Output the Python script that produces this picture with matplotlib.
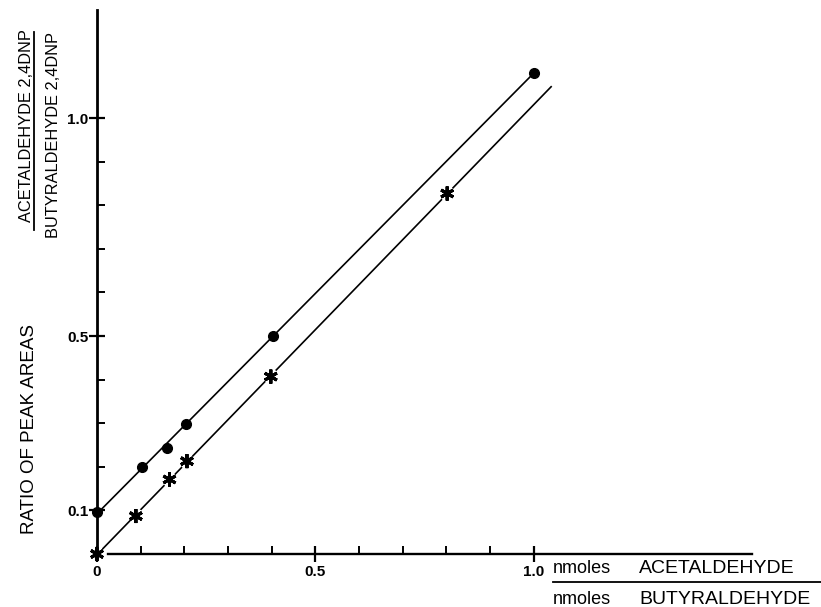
import numpy as np
import matplotlib
matplotlib.use("Agg")
import matplotlib.pyplot as plt
from matplotlib.lines import Line2D
import matplotlib.patheffects as pe

plt.rcParams['font.family'] = ['Liberation Sans', 'DejaVu Sans']

# ---- data ----
circle_x = [0.0, 0.102, 0.161, 0.204, 0.403, 1.0]
circle_y = [0.097, 0.200, 0.244, 0.299, 0.500, 1.104]
star_x = [0.0, 0.089, 0.166, 0.206, 0.398, 0.802]
star_y = [0.0, 0.087, 0.171, 0.213, 0.407, 0.827]
circle_line_x = [0.0, 1.0]
star_line_x = [0.0, 1.04]

x_major = [0.0, 0.5, 1.0]
x_major_labels = ['0', '0.5', '1.0']
x_minor = [0.1, 0.2, 0.3, 0.4, 0.6, 0.7, 0.8, 0.9]
y_major = [0.1, 0.5, 1.0]
y_major_labels = ['0.1', '0.5', '1.0']
y_minor = [0.2, 0.3, 0.4, 0.6, 0.7, 0.8, 0.9]

W, H = 821, 607
def fx(px):
    return px / W
def fy(py):
    return 1 - py / H

fig = plt.figure(figsize=(W / 100, H / 100), dpi=100)
ax = fig.add_axes([fx(97), fy(554), (752 - 97) / W, (554 - 10) / H])
ax.set_xlim(0, 1.5)
ax.set_ylim(0, 1.248)

for s in ['top', 'right']:
    ax.spines[s].set_visible(False)
ax.spines['left'].set_linewidth(2.0)
ax.spines['bottom'].set_linewidth(1.7)
ax.spines['bottom'].set_bounds(0.025, 1.5)

ax.set_xticks(x_major)
ax.set_xticklabels(x_major_labels, fontsize=11, fontweight='bold')
ax.set_xticks(x_minor, minor=True)
ax.set_yticks(y_major)
ax.set_yticklabels(y_major_labels, fontsize=11, fontweight='bold')
ax.set_yticks(y_minor, minor=True)
ax.tick_params(which='major', direction='inout', length=11, width=1.6)
ax.tick_params(which='minor', direction='in', length=6, width=1.4)
ax.tick_params(axis='y', which='major', pad=0.5)
ax.tick_params(axis='x', which='major', pad=2.5)

# fitted lines
pc = np.polyfit(circle_x, circle_y, 1)
ps = np.polyfit(star_x, star_y, 1)
ax.plot(circle_line_x, np.polyval(pc, circle_line_x), color='black', lw=1.2, clip_on=False, zorder=2)
ax.plot(star_line_x, np.polyval(ps, star_line_x), color='black', lw=1.2, clip_on=False, zorder=2)

ax.plot(circle_x, circle_y, 'o', color='black', ms=7, clip_on=False, zorder=4)
ax.plot(star_x, star_y, linestyle='none', marker=(6, 2, 0), color='black', ms=10, mew=2.1,
        clip_on=False, zorder=4,
        path_effects=[pe.withStroke(linewidth=5, foreground='white'), pe.Normal()])

# y-axis labels
fig.text(fx(34), fy(428.5), 'RATIO OF PEAK AREAS', rotation=90, rotation_mode='anchor',
         ha='center', va='baseline', fontsize=13.5)
fig.text(fx(31), fy(126), 'ACETALDEHYDE 2,4DNP', rotation=90, rotation_mode='anchor',
         ha='center', va='baseline', fontsize=11.8)
fig.text(fx(58), fy(134.5), 'BUTYRALDEHYDE 2,4DNP', rotation=90, rotation_mode='anchor',
         ha='center', va='baseline', fontsize=11.8)
fig.add_artist(Line2D([fx(34), fx(34)], [fy(32), fy(230)], transform=fig.transFigure,
                      color='black', lw=1.3))

# x-axis label
fig.text(fx(553), fy(573), 'nmoles', ha='left', va='baseline', fontsize=13)
fig.text(fx(639), fy(573), 'ACETALDEHYDE', ha='left', va='baseline', fontsize=14)
fig.text(fx(553), fy(604), 'nmoles', ha='left', va='baseline', fontsize=13)
fig.text(fx(639), fy(604), 'BUTYRALDEHYDE', ha='left', va='baseline', fontsize=14)
fig.add_artist(Line2D([fx(553), fx(821)], [fy(582), fy(582)], transform=fig.transFigure,
                      color='black', lw=1.3))

fig.savefig('out.png', dpi=100)
